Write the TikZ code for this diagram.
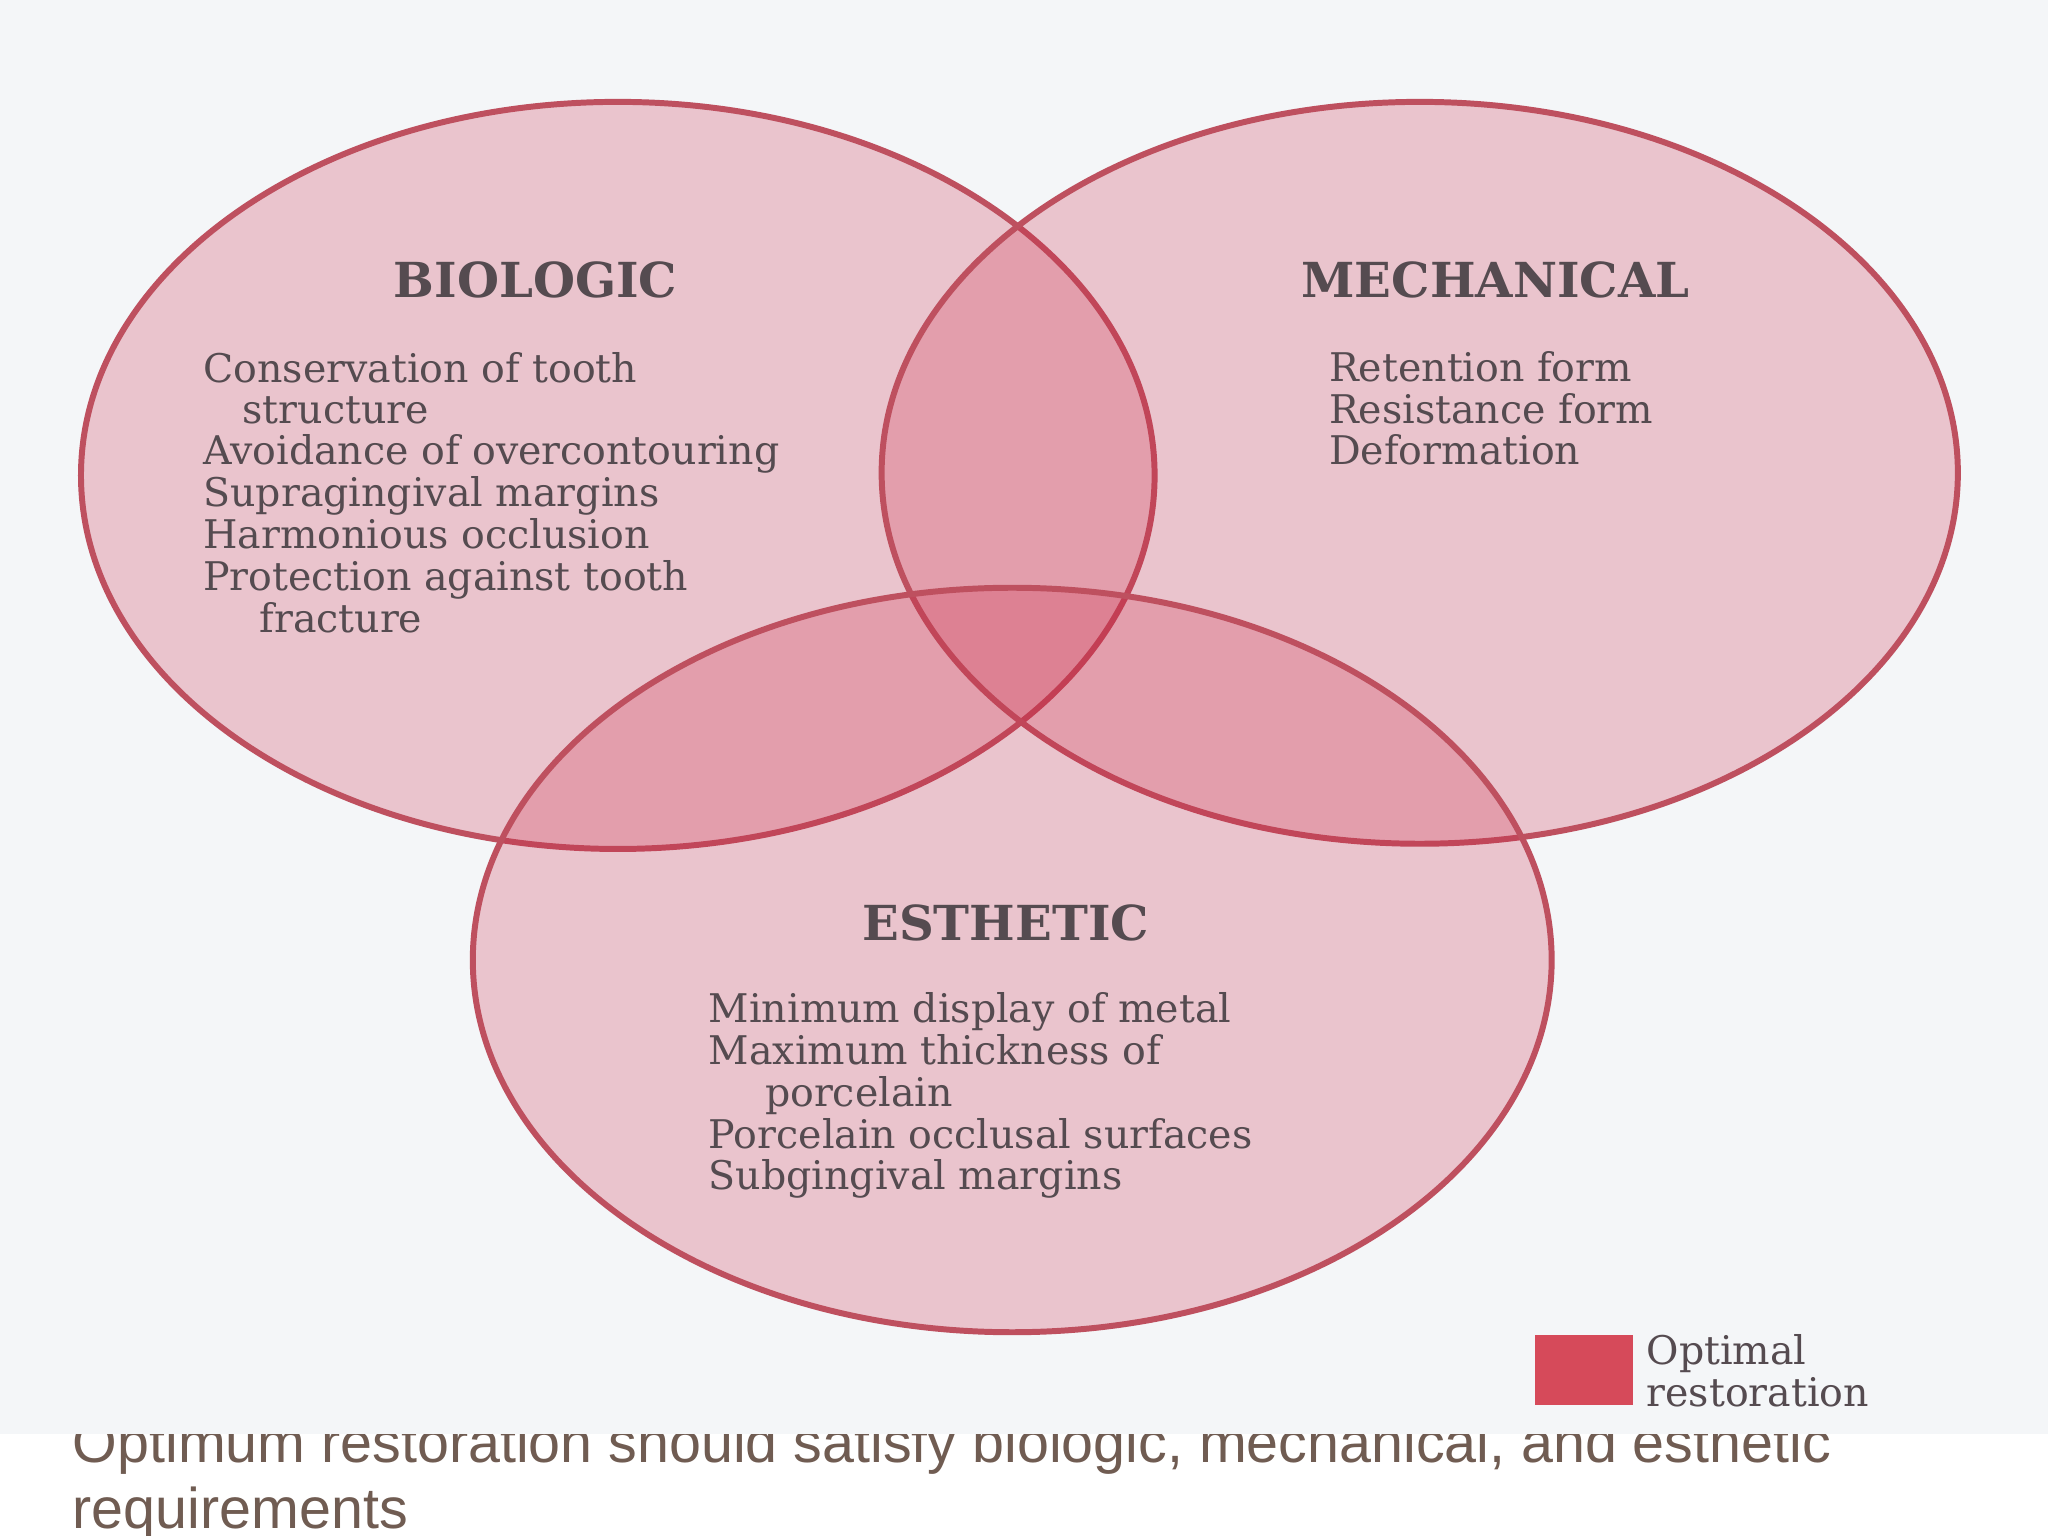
\documentclass[tikz,border=0pt]{standalone}
\usepackage{fontspec}
\setmainfont{DejaVu Serif}
\newfontfamily\capfont{Liberation Sans}
\definecolor{bgc}{RGB}{244,246,248}
\definecolor{vfill}{RGB}{205,40,70}
\definecolor{vline}{RGB}{190,80,95}
\definecolor{txt}{RGB}{85,75,80}
\definecolor{capc}{RGB}{112,92,82}
\definecolor{legc}{RGB}{214,74,90}
\tikzset{
 venn/.style={fill=vfill,fill opacity=0.24,draw=vline,draw opacity=1,line width=1.3pt},
 head/.style={font=\fontsize{10.5}{11}\selectfont\bfseries,text=txt,anchor=base},
 item/.style={font=\fontsize{8.6}{9}\selectfont,text=txt,anchor=base west,inner sep=0},
 captext/.style={font=\capfont\fontsize{12.5}{14}\selectfont,text=capc,anchor=base west,inner sep=0}
}
\begin{document}
\begin{tikzpicture}[x=0.01cm,y=-0.01cm]
\useasboundingbox (0,0) rectangle (1568,1176);
\fill[white] (0,0) rectangle (1568,1176);
\node[captext] (c1) at (55,1120) {Optimum restoration should satisfy biologic, mechanical, and esthetic};
\node[captext] (c2) at (55,1170) {requirements};
\fill[bgc] (0,0) rectangle (1568,1098);
\path[venn] (473,364) ellipse [x radius=411,y radius=286];
\path[venn] (1087,362) ellipse [x radius=412,y radius=284];
\path[venn] (775,735) ellipse [x radius=413,y radius=285];
\node[head] (hb) at (410,228) {BIOLOGIC};
\node[head] (hm) at (1145,228) {MECHANICAL};
\node[head] (he) at (770,720) {ESTHETIC};
\node[item] (b1) at (155,293) {Conservation of tooth};
\node[item] (b2) at (185,324) {structure};
\node[item] (b3) at (155,356) {Avoidance of overcontouring};
\node[item] (b4) at (155,388) {Supragingival margins};
\node[item] (b5) at (155,420) {Harmonious occlusion};
\node[item] (b6) at (155,452) {Protection against tooth};
\node[item] (b7) at (198,484) {fracture};
\node[item] (m1) at (1017,292) {Retention form};
\node[item] (m2) at (1017,324) {Resistance form};
\node[item] (m3) at (1017,356) {Deformation};
\node[item] (e1) at (542,783) {Minimum display of metal};
\node[item] (e2) at (542,815) {Maximum thickness of};
\node[item] (e3) at (585,847) {porcelain};
\node[item] (e4) at (542,879) {Porcelain occlusal surfaces};
\node[item] (e5) at (542,911) {Subgingival margins};
\fill[legc] (1175,1022) rectangle (1250,1076);
\node[item] (l1) at (1260,1045) {Optimal};
\node[item] (l2) at (1260,1077) {restoration};
\end{tikzpicture}
\end{document}
